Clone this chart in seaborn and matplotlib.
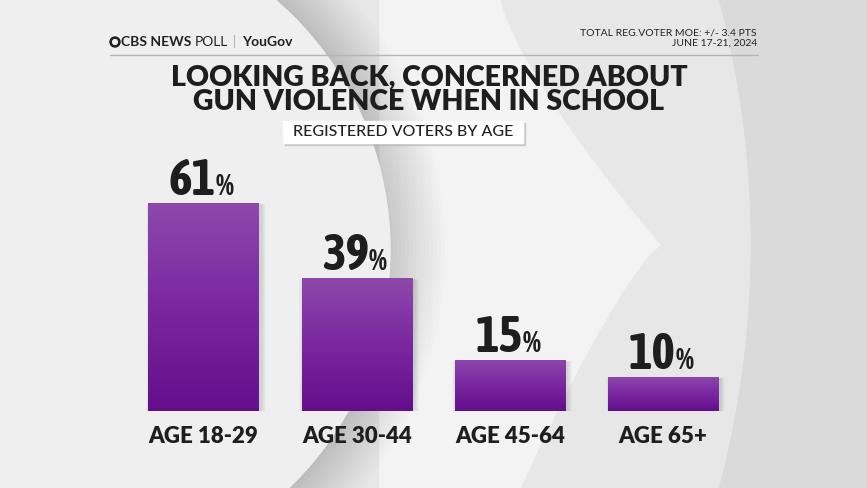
import matplotlib.pyplot as plt
import matplotlib.patches as mpatches
from matplotlib import font_manager
import seaborn as sns
import numpy as np
from matplotlib.colors import LinearSegmentedColormap

# data
categories = ['AGE 18-29', 'AGE 30-44', 'AGE 45-64', 'AGE 65+']
values = [61, 39, 15, 10]
title = 'LOOKING BACK, CONCERNED ABOUT\nGUN VIOLENCE WHEN IN SCHOOL'
subtitle = 'REGISTERED VOTERS BY AGE'
moe_text = 'TOTAL REG.VOTER MOE: +/- 3.4 PTS\nJUNE 17-21, 2024'

sns.set_style('white')
plt.rcParams['font.family'] = ['Lato', 'DejaVu Sans']


def wnum(w):
    if isinstance(w, str):
        return font_manager.weight_dict.get(w, 400)
    return w


def pick_font(test, min_weight):
    found = [f for f in font_manager.fontManager.ttflist
             if test(f) and wnum(f.weight) >= min_weight and f.style == 'normal']
    found.sort(key=lambda f: wnum(f.weight))
    return font_manager.FontProperties(fname=found[0].fname) if found else None


# narrow-ish bold face for the big numbers, heavy face for the title
num_fp = pick_font(lambda f: 'Narrow' in f.name or 'Condensed' in f.name, 700)
if num_fp is None:
    num_fp = pick_font(lambda f: f.name == 'Roboto', 700)
if num_fp is None:
    num_fp = font_manager.FontProperties(family='DejaVu Sans', weight='bold')
heavy_fp = pick_font(lambda f: f.name == 'Lato', 800)
if heavy_fp is None:
    heavy_fp = font_manager.FontProperties(family='Lato', weight='bold')

W, H = 867, 488
fig = plt.figure(figsize=(W / 100, H / 100), dpi=100)

# background swooshes (pixel coordinates)
bg = fig.add_axes([0, 0, 1, 1])
bg.set_xlim(0, W)
bg.set_ylim(H, 0)
bg.axis('off')
bg.add_patch(mpatches.Rectangle((0, 0), W, H, color='#dadada', zorder=0))
bg.add_patch(mpatches.Circle((-200, 244), 950, color='#e7e7e7', zorder=1))
t = np.linspace(0, 1, 30)
upper = np.column_stack([500 + 160 * t ** 1.3, 245 * t])
lower = np.column_stack([660 - 140 * t ** 0.8, 245 + 243 * t])
chev = np.vstack([[[380, 0]], upper, lower, [[380, 488]]])
bg.add_patch(mpatches.Polygon(chev, closed=True, color='#f3f3f3', zorder=2))
for k in range(14):
    bg.add_patch(mpatches.Circle((60, 250), 333 + 4 * k, color='#000000',
                                 alpha=0.012, zorder=3, lw=0))
bg.add_patch(mpatches.Circle((60, 250), 330, color='#efefef', zorder=3))

# header
bg.add_patch(mpatches.Circle((115, 42), 5, color='#222222', zorder=4))
bg.add_patch(mpatches.Circle((115, 42), 2.4, color='#efefef', zorder=4))
fig.text(121 / W, 1 - 42 / H, 'CBS NEWS', fontsize=10, fontweight='bold',
         color='#222222', va='center', ha='left')
fig.text(195 / W, 1 - 42 / H, 'POLL', fontsize=10, color='#222222',
         va='center', ha='left')
fig.text(233 / W, 1 - 42 / H, '|', fontsize=9, color='#aaaaaa',
         va='center', ha='left')
fig.text(242 / W, 1 - 42 / H, 'YouGov', fontsize=10, fontweight='bold',
         color='#222222', va='center', ha='left')
fig.text(757 / W, 1 - 38 / H, moe_text, fontsize=7.5, color='#222222',
         va='center', ha='right', linespacing=1.15)
bg.plot([110, 758], [55, 55], color='#b5b5b5', lw=1, zorder=4)

# title & subtitle
fig.text(429 / W, 1 - 90 / H, title, fontproperties=heavy_fp, fontsize=20.5,
         color='#1e1e1e', ha='center', va='center', linespacing=0.95)
bg.add_patch(mpatches.Rectangle((285, 123), 240, 22, color='#b0b0b0', alpha=0.5, zorder=4))
bg.add_patch(mpatches.Rectangle((283, 121), 240, 22, color='white', zorder=4))
fig.text(403 / W, 1 - 132 / H, subtitle, fontsize=11.5, fontweight='medium',
         color='#222222', ha='center', va='center', zorder=5)

# bars
ax = fig.add_axes([126.8 / W, 77 / H, 613 / W, 238.7 / H])
ax.patch.set_alpha(0)
sns.barplot(x=categories, y=values, ax=ax, width=0.72, color='#7a2aa0',
            saturation=1, edgecolor='none')
ax.set_xlim(-0.5, 3.5)
ax.set_ylim(0, 70)
ax.axis('off')

cmap = LinearSegmentedColormap.from_list('purp', ['#630f8c', '#7a27a0', '#8e48ab'])
grad = np.linspace(0, 1, 256).reshape(-1, 1)
for i, p in enumerate(ax.patches):
    x0, y0, w, h = p.get_x(), p.get_y(), p.get_width(), p.get_height()
    # soft shadow
    for k in range(1, 6):
        ax.add_patch(mpatches.Rectangle((x0 - 0.006 * k + 0.015, y0 - 0.45 * k),
                                        w + 0.012 * k, h + 0.35 * k,
                                        color='#000000', alpha=0.025,
                                        zorder=1, lw=0))
    im = ax.imshow(grad, extent=[x0, x0 + w, y0, y0 + h], cmap=cmap,
                   aspect='auto', origin='lower', zorder=3)
    im.set_clip_path(p)
    p.set_zorder(2)
    cx = x0 + w / 2
    ax.text(cx + 0.08, values[i] + 2.4, f'{values[i]}', fontproperties=num_fp,
            fontsize=36, color='#1e1e1e', ha='right', va='baseline', zorder=5)
    ax.text(cx + 0.08, values[i] + 2.4, '%', fontproperties=num_fp,
            fontsize=21, color='#1e1e1e', ha='left', va='baseline', zorder=5)
    ax.text(cx, -4.5, categories[i], fontproperties=heavy_fp, fontsize=16,
            color='#1e1e1e', ha='center', va='top', zorder=5, clip_on=False)

fig.savefig('out.png', dpi=100)
